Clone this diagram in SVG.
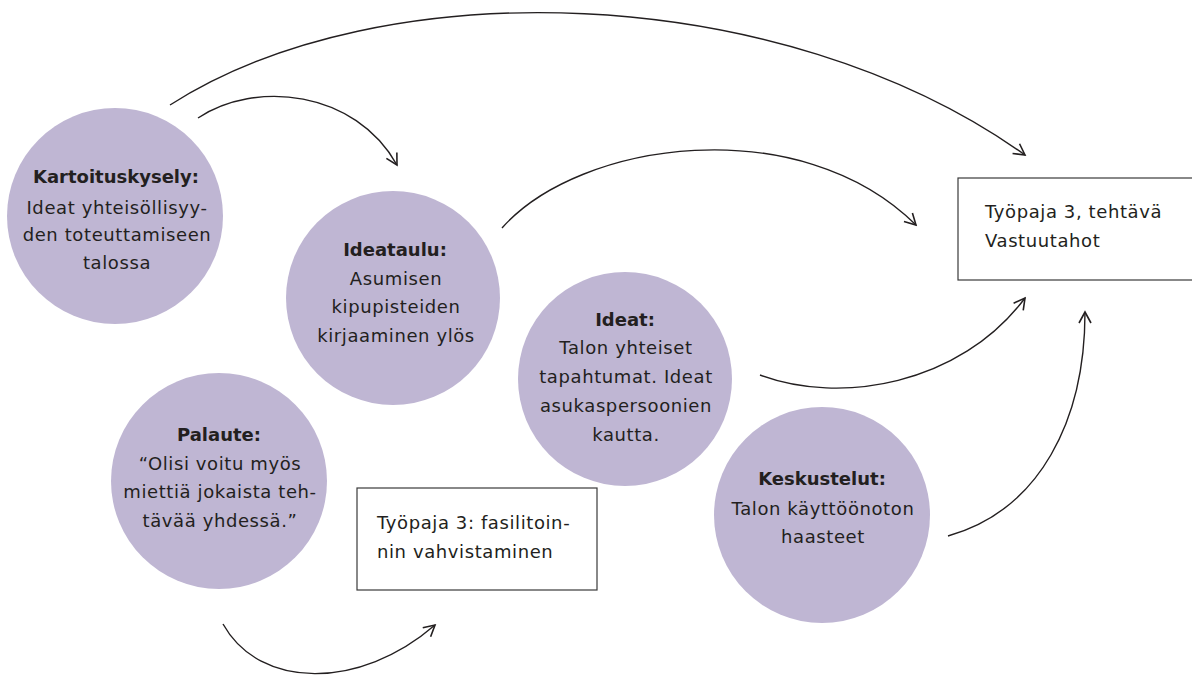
<svg xmlns="http://www.w3.org/2000/svg" width="1192" height="676" viewBox="0 0 1192 676">
<style>
.c{fill:#bfb6d3}
.t{font-family:"DejaVu Sans","Liberation Sans",sans-serif;font-size:18px;fill:#231f20;text-anchor:middle;letter-spacing:0.6px}
.b{font-weight:bold;letter-spacing:0}
.l{text-anchor:start}
.box{fill:#fff;stroke:#3a3a3a;stroke-width:1.2}
.e{fill:none;stroke:#231f20;stroke-width:1.4}
</style>
<defs>
<marker id="a" markerUnits="userSpaceOnUse" markerWidth="16" markerHeight="16" viewBox="0 0 16 16" refX="14" refY="8" orient="auto">
<path d="M3,2 L14,8 L3,14" fill="none" stroke="#231f20" stroke-width="1.6"/>
</marker>
</defs>
<rect width="1192" height="676" fill="#fff"/>
<g id="connectors">
<path class="e" d="M170,105 C380,-30 780,-20 1025,155" marker-end="url(#a)"/>
<path class="e" d="M198,118 C255,80 355,90 397,165" marker-end="url(#a)"/>
<path class="e" d="M502,228 C580,140 800,110 916,225" marker-end="url(#a)"/>
<path class="e" d="M760,375 C840,405 960,385 1025,298" marker-end="url(#a)"/>
<path class="e" d="M948,536 C1040,510 1085,420 1085,312" marker-end="url(#a)"/>
<path class="e" d="M223,624 C260,690 360,690 435,625" marker-end="url(#a)"/>
</g>
<g id="kartoituskysely">
<circle class="c" cx="115" cy="216" r="108"/>
<text class="t b" x="116" y="183">Kartoituskysely:</text>
<text class="t" x="117" y="214">Ideat yhteisöllisyy-</text>
<text class="t" x="117" y="241">den toteuttamiseen</text>
<text class="t" x="117" y="269">talossa</text>
</g>
<g id="ideataulu">
<circle class="c" cx="393" cy="298" r="107"/>
<text class="t b" x="395" y="256">Ideataulu:</text>
<text class="t" x="396" y="285">Asumisen</text>
<text class="t" x="396" y="313">kipupisteiden</text>
<text class="t" x="396" y="342">kirjaaminen ylös</text>
</g>
<g id="ideat">
<circle class="c" cx="625" cy="379" r="107"/>
<text class="t b" x="625" y="326">Ideat:</text>
<text class="t" x="626" y="354">Talon yhteiset</text>
<text class="t" x="626" y="383">tapahtumat. Ideat</text>
<text class="t" x="626" y="412">asukaspersoonien</text>
<text class="t" x="626" y="441">kautta.</text>
</g>
<g id="palaute">
<circle class="c" cx="219" cy="481" r="108"/>
<text class="t b" x="219" y="441">Palaute:</text>
<text class="t" x="220" y="470">“Olisi voitu myös</text>
<text class="t" x="220" y="498">miettiä jokaista teh-</text>
<text class="t" x="220" y="527">tävää yhdessä.”</text>
</g>
<g id="keskustelut">
<circle class="c" cx="822" cy="515" r="108"/>
<text class="t b" x="822" y="485">Keskustelut:</text>
<text class="t" x="823" y="515">Talon käyttöönoton</text>
<text class="t" x="823" y="543">haasteet</text>
</g>
<g id="vastuutahot">
<rect class="box" x="958" y="178" width="240" height="102"/>
<text class="t l" x="985" y="218">Työpaja 3, tehtävä</text>
<text class="t l" x="985" y="247">Vastuutahot</text>
</g>
<g id="fasilitointi">
<rect class="box" x="357" y="488" width="240" height="102"/>
<text class="t l" x="377" y="529">Työpaja 3: fasilitoin-</text>
<text class="t l" x="377" y="558">nin vahvistaminen</text>
</g>
</svg>
